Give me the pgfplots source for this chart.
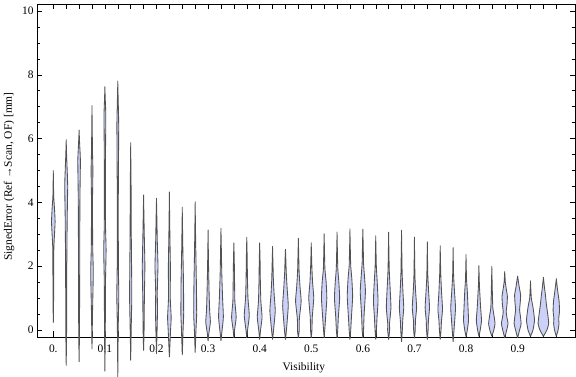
\documentclass[border=0pt]{standalone}
\usepackage{fontspec}
\setmainfont{Liberation Serif}
\usepackage{pgfplots}
\pgfplotsset{compat=1.18}
\definecolor{vfill}{rgb}{0.80,0.82,0.97}
\newcommand\violin[2]{%
  \gdef\vR{}\gdef\vL{}%
  \foreach \yy/\ww in {#2}{%
    \pgfmathsetmacro\xr{#1*0.025+\ww*0.001938}%
    \pgfmathsetmacro\xl{#1*0.025-\ww*0.001938}%
    \xdef\vR{\vR(\xr,\yy)}%
    \xdef\vL{(\xl,\yy)\vL}%
  }%
  \edef\temp{\noexpand\addplot[violin] coordinates {\vR\vL};}%
  \temp
}
\begin{document}
\begin{tikzpicture}
\begin{axis}[
  scale only axis, width=538bp, height=333bp,
  xmin=-0.0316, xmax=1.011, ymin=-0.22, ymax=10.22,
  clip=false,
  violin/.style={fill=vfill, draw=black!68, line width=0.85bp, line join=round, smooth, tension=0.3},
  axis line style={line width=0.8bp},
  xtick={0,0.025,...,0.98},
  xticklabels={0.,,,,0.1,,,,0.2,,,,0.3,,,,0.4,,,,0.5,,,,0.6,,,,0.7,,,,0.8,,,,0.9,,,},
  ytick={0,2,...,10}, minor y tick num=3,
  major tick length=5.5bp, minor tick length=3bp,
  tick style={black, line width=0.6bp},
  /pgf/number format/assume math mode=true,
  ticklabel style={font=\fontsize{11.5}{13}\selectfont},
  xticklabel style={yshift=-4bp},
  label style={font=\fontsize{11.5}{13}\selectfont},
  xlabel={Visibility},
  ylabel={SignedError (Ref →Scan, OF) [mm]},
  xlabel style={at={(axis description cs:0.496,-0.093)}, anchor=center},
  ylabel style={at={(axis description cs:-0.052,0.482)}, anchor=center},
]
\violin{0}{0.22/0, 1.0/0.3, 2.5/0.5, 3.0/1.2, 3.4/1.8, 3.8/1.2, 4.2/0.4, 4.95/0}
\violin{1}{-1.12/0, 0/0.4, 2/0.6, 3.5/1.0, 4.5/1.5, 5.0/1.0, 5.5/0.4, 5.94/0}
\violin{2}{-1.0/0, 0/0.4, 2/0.6, 4/0.8, 5.3/1.3, 5.8/0.6, 6.24/0}
\violin{3}{-0.6/0, 0.5/0.5, 1.8/1.3, 2.6/0.7, 4/0.5, 5/0.9, 5.6/0.5, 6.95/0}
\violin{4}{-1.3/0, 0/0.4, 1.5/0.6, 2.5/1.2, 3.3/0.6, 5/0.5, 6.7/0.9, 7.2/0.4, 7.6/0}
\violin{5}{-1.47/0, 0/0.4, 1.1/1.0, 2/0.6, 4/0.5, 6.4/0.9, 7.2/0.4, 7.77/0}
\violin{6}{-0.96/0, 0/0.5, 1/1.1, 2/0.9, 3/0.6, 4.5/0.4, 5.79/0}
\violin{7}{-0.65/0, 0/0.5, 1/0.8, 2/1.3, 2.8/0.8, 3.5/0.4, 4.19/0}
\violin{8}{-0.75/0, 0/0.6, 0.6/1.0, 1.2/0.8, 2/1.5, 2.8/0.8, 3.5/0.4, 4.09/0}
\violin{9}{-0.85/0, 0/1.2, 0.4/1.8, 1.0/0.9, 2.0/1.0, 3.0/0.5, 4.25/0}
\violin{10}{-0.79/0, 0/0.8, 0.5/1.4, 1.5/1.2, 2.5/0.6, 3.77/0}
\violin{11}{-0.71/0, 0/0.8, 0.5/1.5, 1.3/1.3, 2.2/0.8, 3.0/0.4, 3.96/0}
\violin{12}{-0.35/0, -0.1/0.8, 0.25/2.3, 0.6/1.6, 1.2/1.0, 2.0/0.5, 3.07/0}
\violin{13}{-0.34/0, -0.1/0.8, 0.4/2.4, 1.0/1.6, 1.8/0.8, 2.5/0.4, 3.15/0}
\violin{14}{-0.25/0, 0/0.7, 0.4/2.3, 0.9/1.0, 1.5/0.7, 2.2/0.4, 2.7/0}
\violin{15}{-0.25/0, 0/0.8, 0.45/2.5, 1.0/1.2, 1.6/0.7, 2.3/0.4, 2.87/0}
\violin{16}{-0.3/0, 0/0.9, 0.4/2.4, 0.9/1.2, 1.5/0.7, 2.2/0.4, 2.7/0}
\violin{17}{-0.3/0, 0/1.0, 0.6/2.7, 1.1/1.6, 1.6/0.8, 2.1/0.4, 2.59/0}
\violin{18}{-0.3/0, 0/1.0, 0.75/2.8, 1.3/1.7, 1.8/0.8, 2.2/0.4, 2.53/0}
\violin{19}{-0.25/0, 0/0.9, 0.35/1.0, 0.9/2.8, 1.3/1.8, 1.8/0.8, 2.3/0.4, 2.84/0}
\violin{20}{-0.25/0, 0/0.7, 0.4/1.0, 1.0/2.5, 1.5/1.3, 2.0/0.6, 2.69/0}
\violin{21}{-0.25/0, 0/0.6, 0.4/1.5, 1.0/2.7, 1.5/2.0, 1.9/0.8, 2.4/0.4, 2.98/0}
\violin{22}{-0.25/0, 0/0.7, 0.4/1.3, 1.0/2.6, 1.5/1.8, 1.9/0.8, 2.4/0.4, 3.03/0}
\violin{23}{-0.3/0, 0/0.8, 0.4/1.5, 1.05/2.7, 1.6/1.9, 2.0/0.8, 2.5/0.4, 3.13/0}
\violin{24}{-0.25/0, 0/0.7, 0.5/1.3, 1.2/2.6, 1.7/1.6, 2.1/0.7, 2.6/0.4, 3.13/0}
\violin{25}{-0.3/0, 0/0.7, 0.4/1.3, 0.9/2.3, 1.5/1.5, 2.0/0.6, 2.9/0}
\violin{26}{-0.3/0, 0/1.0, 0.2/0.9, 0.7/2.3, 1.3/1.5, 1.9/0.6, 3.0/0}
\violin{27}{-0.37/0, 0/0.8, 0.3/1.2, 0.7/2.2, 1.2/1.4, 1.8/0.6, 3.05/0}
\violin{28}{-0.26/0, 0/0.8, 0.3/1.0, 0.7/2.2, 1.2/1.2, 1.7/0.5, 2.84/0}
\violin{29}{-0.3/0, 0/0.8, 0.3/1.1, 0.7/2.2, 1.2/1.3, 1.7/0.5, 2.7/0}
\violin{30}{-0.3/0, 0/0.8, 0.3/1.3, 0.65/2.3, 1.2/1.3, 1.8/0.5, 2.59/0}
\violin{31}{-0.37/0, 0/0.9, 0.3/1.6, 0.7/2.4, 1.2/1.4, 1.7/0.5, 2.53/0}
\violin{32}{-0.21/0, 0/1.3, 0.3/2.5, 0.7/2.0, 1.2/1.3, 1.6/0.5, 2.32/0}
\violin{33}{-0.2/0, 0/1.3, 0.3/2.6, 0.7/1.7, 1.1/1.0, 1.4/0.5, 1.98/0}
\violin{34}{-0.2/0, 0/2.0, 0.2/3.2, 0.45/2.2, 0.7/1.0, 1.1/0.6, 1.94/0}
\violin{35}{-0.25/0, 0/2.0, 0.2/3.3, 0.4/2.2, 0.57/1.5, 0.8/2.3, 1.05/2.7, 1.3/1.5, 1.5/0.6, 1.83/0}
\violin{36}{-0.25/0, 0/2.0, 0.2/3.5, 0.45/2.7, 0.63/2.0, 0.85/2.6, 1.1/3.0, 1.35/1.6, 1.69/0}
\violin{37}{-0.2/0, 0/2.5, 0.3/4.0, 0.6/3.0, 0.8/2.0, 1.0/0.8, 1.51/0}
\violin{38}{-0.2/0, 0/3.5, 0.2/5.3, 0.45/4.5, 0.8/3.0, 1.1/2.0, 1.35/1.0, 1.65/0}
\violin{39}{-0.2/0, 0/1.8, 0.2/2.7, 0.35/2.4, 0.6/3.2, 0.9/2.8, 1.2/1.5, 1.59/0}
\end{axis}
\pgfresetboundingbox
\path ([shift={(-37bp,-40bp)}]current axis.south west) rectangle ([shift={(1bp,4bp)}]current axis.north east);
\end{tikzpicture}
\end{document}
